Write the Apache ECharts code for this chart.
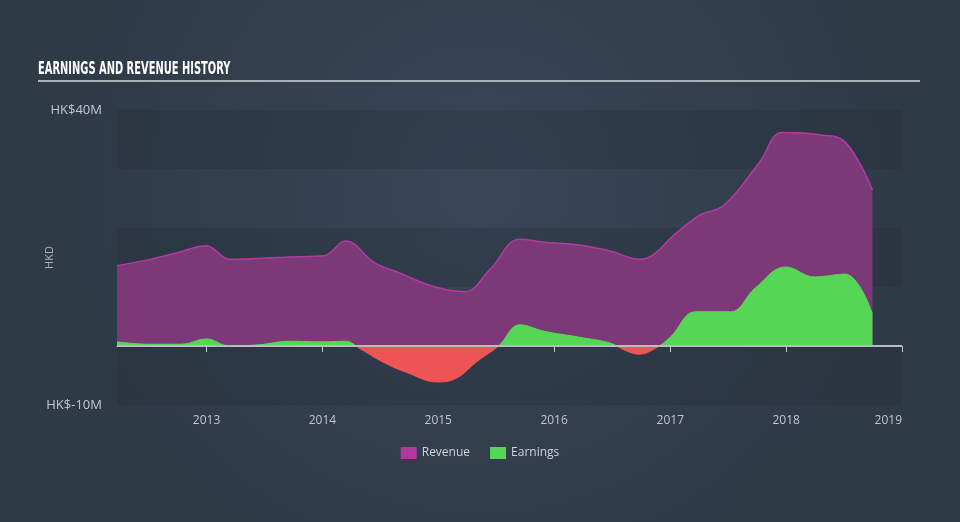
<!DOCTYPE html>
<html>
<head>
<meta charset="utf-8">
<script src="https://cdn.jsdelivr.net/npm/echarts@6/dist/echarts.min.js"></script>
<style>
html,body{margin:0;padding:0;background:#333f4e;}
#c{width:960px;height:522px;}
</style>
</head>
<body>
<div id="c"></div>
<script>
const revenueDates = ['2012-03-25','2012-06-30','2012-09-30','2012-12-31','2013-03-15','2013-09-20','2014-01-05','2014-03-15','2014-06-15','2014-09-01','2014-12-05','2015-03-25','2015-06-12','2015-09-15','2015-12-01','2016-03-20','2016-06-25','2016-09-25','2017-02-01','2017-04-05','2017-06-20','2017-10-10','2017-12-20','2018-04-15','2018-07-05','2018-09-30'];
const revenueValues = [13.6,14.6,15.8,17.0,14.7,15.1,15.3,17.8,14.1,12.4,10.3,9.2,12.9,18.1,17.6,17.1,16.1,14.7,19.7,22.2,23.9,31.2,36.2,35.8,34.6,26.4];

const earningsDates = ['2012-03-25','2012-07-01','2012-10-15','2012-12-31','2013-03-15','2013-06-15','2013-09-20','2014-01-05','2014-03-15','2014-05-01','2014-07-10','2014-09-20','2014-12-31','2015-03-01','2015-05-01','2015-07-10','2015-09-15','2015-12-01','2016-03-20','2016-06-25','2016-08-15','2016-09-25','2016-11-15','2017-01-01','2017-03-22','2017-07-10','2017-09-25','2017-12-31','2018-04-01','2018-07-05','2018-09-30'];
const earningsValues = [0.7,0.3,0.3,1.2,0.0,0.2,0.8,0.7,0.8,-0.5,-2.7,-4.4,-6.1,-5.4,-2.7,0.0,3.6,2.5,1.5,0.5,-0.8,-1.4,-0.4,1.5,5.8,5.8,9.8,13.4,11.7,12.2,5.4];

const yTickLabels = {'40':'HK$40M','-10':'HK$-10M'};

const GREEN = '#55d655', RED = '#ef5455';
const eMax = Math.max(...earningsValues), eMin = Math.min(...earningsValues);
const zeroOff = eMax / (eMax - eMin);
const earnGrad = new echarts.graphic.LinearGradient(0, 0, 0, 1, [
  {offset:0, color:GREEN},{offset:zeroOff, color:GREEN},
  {offset:zeroOff, color:RED},{offset:1, color:RED}
]);

const chart = echarts.init(document.getElementById('c'));
chart.setOption({
  backgroundColor: {
    type:'radial', x:0.5, y:0.35, r:0.8,
    colorStops:[{offset:0,color:'#384656'},{offset:1,color:'#2f3a47'}]
  },
  animation:false,
  graphic:[
    {type:'text', x:38, y:60, scaleX:0.55, scaleY:1,
      style:{text:'EARNINGS AND REVENUE HISTORY', fill:'#ffffff', font:'bold 18px "DejaVu Sans"', verticalAlign:'top'}},
    {type:'line', shape:{x1:38,y1:81,x2:920,y2:81}, style:{stroke:'#a9b0b8', lineWidth:2}}
  ],
  grid:{left:117, right:58, top:110, bottom:117},
  legend:{
    bottom:58, left:'center', itemWidth:16, itemHeight:12, itemGap:20,
    icon:'rect',
    textStyle:{color:'#d0d4da', fontSize:12, fontFamily:'Open Sans'},
    data:[{name:'Revenue', itemStyle:{color:'#b0399e'}},{name:'Earnings', itemStyle:{color:GREEN}}]
  },
  xAxis:{
    type:'time', min:'2012-03-25', max:'2019-01-01',
    splitLine:{show:false},
    axisLine:{lineStyle:{color:'#c0c6ce', width:1}},
    axisTick:{show:true, length:6, lineStyle:{color:'#c0c6ce'}},
    axisLabel:{color:'#c0c6ce', fontSize:12, fontFamily:'Open Sans', margin:10, formatter:'{yyyy}',
      showMinLabel:false, showMaxLabel:true, alignMaxLabel:'right'}
  },
  yAxis:{
    type:'value', min:-10, max:40, interval:10,
    name:'HKD', nameLocation:'middle', nameGap:62, nameMoveOverlap:false,
    nameTextStyle:{color:'#aab0b8', fontSize:11, fontFamily:'Open Sans'},
    axisLine:{show:false}, axisTick:{show:false},
    splitLine:{show:false},
    splitArea:{show:true, areaStyle:{color:['rgba(30,40,52,0.25)','rgba(0,0,0,0)']}},
    axisLabel:{color:'#c0c6ce', fontSize:13, fontFamily:'Open Sans', margin:15,
      formatter:function(v){return yTickLabels[String(v)]||'';}}
  },
  series:[
    {
      name:'Revenue', type:'line', smooth:0.4, symbol:'none',
      data: revenueDates.map((d,i)=>[d, revenueValues[i]]),
      itemStyle:{color:'#b0399e'},
      lineStyle:{color:'#b43aa2', width:1.5},
      areaStyle:{color:'#7b3a77', opacity:1}
    },
    {
      name:'Earnings', type:'line', smooth:0.4, symbol:'none',
      data: earningsDates.map((d,i)=>[d, earningsValues[i]]),
      itemStyle:{color:GREEN},
      lineStyle:{width:1, color:earnGrad},
      areaStyle:{opacity:1, color:earnGrad},
      markLine:{silent:true, symbol:'none', label:{show:false},
        lineStyle:{color:'#b8bcc0', width:2, type:'solid'},
        data:[{yAxis:0}]}
    }
  ]
});
</script>
</body>
</html>
